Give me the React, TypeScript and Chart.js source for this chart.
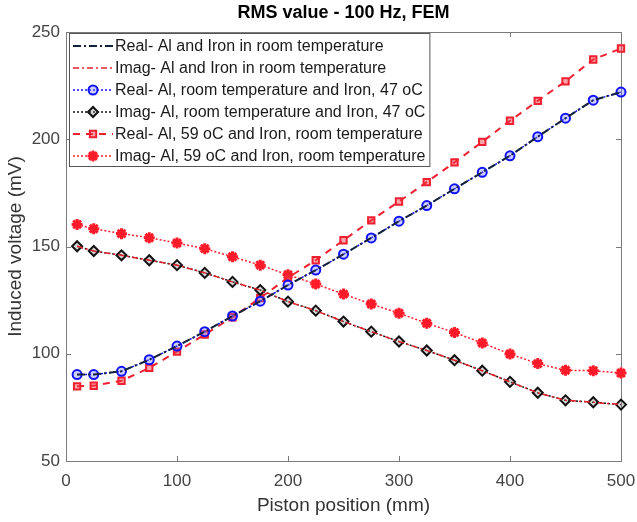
import React, { useEffect, useRef } from 'react';
import { Chart, registerables } from 'chart.js';
import { drawPoint } from 'chart.js/helpers';

Chart.register(...registerables);

// ---- data ----
const positions = [10, 25, 50, 75, 100, 125, 150, 175, 200, 225, 250, 275, 300, 325, 350, 375, 400, 425, 450, 475, 500];
const realRoom = [90.3, 90.3, 91.8, 97.2, 103.6, 110.3, 117.6, 124.5, 132, 139, 146.4, 154, 161.8, 169.1, 176.9, 184.6, 192.3, 201.2, 209.8, 218.2, 222];
const imagRoom = [150.1, 147.9, 145.9, 143.6, 141.3, 137.7, 133.5, 129.7, 124.3, 120.1, 115, 110.3, 105.7, 101.5, 97, 92.1, 86.9, 81.8, 78.3, 77.4, 76.3];
const realIron47 = [90.3, 90.3, 91.8, 97.2, 103.6, 110.3, 117.6, 124.5, 132, 139, 146.4, 154, 161.8, 169.1, 176.9, 184.6, 192.3, 201.2, 209.8, 218.2, 222];
const imagIron47 = [150.1, 147.9, 145.9, 143.6, 141.3, 137.7, 133.5, 129.7, 124.3, 120.1, 115, 110.3, 105.7, 101.5, 97, 92.1, 86.9, 81.8, 78.3, 77.4, 76.3];
const realAl59 = [84.8, 85.1, 87.4, 93.4, 101, 109, 117, 126, 135.5, 143.6, 152.9, 162.2, 171, 180, 189.2, 198.8, 208.6, 217.9, 227, 237.2, 242.3];
const imagAl59 = [160.3, 158.3, 156, 154.1, 151.6, 149, 145.2, 141.3, 136.8, 132.5, 127.8, 123.2, 118.9, 114.2, 109.9, 105, 99.9, 95.4, 92.3, 92.1, 91];

const seriesNames = [
  'Real- Al and Iron in room temperature',
  'Imag- Al and Iron in room temperature',
  'Real- Al, room temperature and Iron, 47 oC',
  'Imag- Al, room temperature and Iron, 47 oC',
  'Real- Al, 59 oC and Iron, room temperature',
  'Imag- Al, 59 oC and Iron, room temperature',
];
const xTicks = [0, 100, 200, 300, 400, 500];
const yTicks = [50, 100, 150, 200, 250];
const chartTitle = 'RMS value - 100 Hz, FEM';
const xTitle = 'Piston position (mm)';
const yTitle = 'Induced voltage (mV)';

const FONT = "'Liberation Sans', Arial, Helvetica, sans-serif";

const toPoints = (ys: number[]) => ys.map((y, i) => ({ x: positions[i], y }));

const framePlugin = {
  id: 'frame',
  beforeDatasetsDraw(chart: any) {
    const { ctx, chartArea: a, scales } = chart;
    ctx.save();
    ctx.strokeStyle = '#7a7a7a';
    ctx.lineWidth = 1;
    ctx.strokeRect(Math.round(a.left) + 0.5, Math.round(a.top) + 0.5, Math.round(a.right - a.left), Math.round(a.bottom - a.top));
    const tl = 5;
    ctx.beginPath();
    xTicks.slice(1, -1).forEach((v) => {
      const x = Math.round(scales.x.getPixelForValue(v)) + 0.5;
      ctx.moveTo(x, a.bottom);
      ctx.lineTo(x, a.bottom - tl);
      ctx.moveTo(x, a.top);
      ctx.lineTo(x, a.top + tl);
    });
    yTicks.slice(1, -1).forEach((v) => {
      const y = Math.round(scales.y.getPixelForValue(v)) + 0.5;
      ctx.moveTo(a.left, y);
      ctx.lineTo(a.left + tl, y);
      ctx.moveTo(a.right, y);
      ctx.lineTo(a.right - tl, y);
    });
    ctx.stroke();
    ctx.restore();
  },
  afterDraw(chart: any) {
    const { ctx, chartArea: a } = chart;
    ctx.save();
    ctx.font = `bold 18px ${FONT}`;
    ctx.fillStyle = '#000000';
    ctx.textAlign = 'center';
    ctx.textBaseline = 'middle';
    ctx.fillText(chartTitle, (a.left + a.right) / 2, 13);
    ctx.restore();
  },
};

const legendPlugin = {
  id: 'boxLegend',
  afterDraw(chart: any) {
    const { ctx, chartArea: a } = chart;
    const datasets = chart.data.datasets;
    const fontSize = 16;
    const rowH = 22;
    const left = Math.round(a.left) + 3;
    const top = Math.round(a.top) + 1;
    ctx.save();
    ctx.font = `${fontSize}px ${FONT}`;
    let maxW = 0;
    datasets.forEach((d: any) => {
      maxW = Math.max(maxW, ctx.measureText(d.label).width);
    });
    const sampleStart = 4;
    const sampleLen = 40;
    const textX = left + sampleStart + sampleLen + 2;
    const width = textX - left + maxW + 4;
    const height = rowH * datasets.length + 1;
    ctx.fillStyle = '#ffffff';
    ctx.fillRect(left, top, width, height);
    ctx.strokeStyle = '#555555';
    ctx.lineWidth = 1;
    ctx.strokeRect(left + 0.5, top + 0.5, width, height);
    datasets.forEach((d: any, i: number) => {
      const cy = top + 13 + i * rowH;
      const x0 = left + sampleStart;
      const x1 = x0 + sampleLen;
      ctx.save();
      ctx.strokeStyle = d.borderColor;
      ctx.lineWidth = d.borderWidth;
      ctx.setLineDash(d.borderDash || []);
      ctx.beginPath();
      ctx.moveTo(x0, cy);
      ctx.lineTo(x1, cy);
      ctx.stroke();
      ctx.restore();
      if (d.pointRadius > 0) {
        ctx.save();
        ctx.setLineDash([]);
        ctx.strokeStyle = d.pointBorderColor;
        ctx.fillStyle = d.pointBackgroundColor;
        ctx.lineWidth = d.pointBorderWidth;
        drawPoint(ctx, { pointStyle: d.pointStyle, rotation: 0, radius: d.pointRadius, borderWidth: d.pointBorderWidth }, (x0 + x1) / 2, cy);
        ctx.restore();
      }
      ctx.fillStyle = '#1a1a1a';
      ctx.textBaseline = 'middle';
      ctx.textAlign = 'left';
      ctx.fillText(d.label, textX, cy + 1);
    });
    ctx.restore();
  },
};

export default function App() {
  const ref = useRef<HTMLCanvasElement | null>(null);

  useEffect(() => {
    document.body.style.margin = '0';
    const canvas = ref.current;
    if (!canvas) return;
    const common = { clip: false as any, tension: 0, fill: false };
    const chart = new Chart(canvas, {
      type: 'line',
      data: {
        datasets: [
          {
            ...common,
            label: seriesNames[0],
            data: toPoints(realRoom),
            borderColor: '#14233a',
            borderWidth: 2,
            borderDash: [8, 3, 2, 3],
            pointRadius: 0,
            pointStyle: 'circle',
          },
          {
            ...common,
            label: seriesNames[1],
            data: toPoints(imagRoom),
            borderColor: '#e8202a',
            borderWidth: 1.5,
            borderDash: [6, 3, 2, 3],
            pointRadius: 0,
            pointStyle: 'circle',
          },
          {
            ...common,
            label: seriesNames[2],
            data: toPoints(realIron47),
            borderColor: '#1010ff',
            borderWidth: 1.5,
            borderDash: [2, 2],
            pointStyle: 'circle',
            pointRadius: 4.5,
            pointBorderWidth: 2,
            pointBorderColor: '#1010ff',
            pointBackgroundColor: 'rgba(120,120,255,0.35)',
          },
          {
            ...common,
            label: seriesNames[3],
            data: toPoints(imagIron47),
            borderColor: '#111111',
            borderWidth: 1.5,
            borderDash: [2, 2],
            pointStyle: 'rectRot',
            pointRadius: 5,
            pointBorderWidth: 2,
            pointBorderColor: '#111111',
            pointBackgroundColor: 'rgba(140,140,140,0.35)',
          },
          {
            ...common,
            label: seriesNames[4],
            data: toPoints(realAl59),
            borderColor: '#f02030',
            borderWidth: 2,
            borderDash: [7, 6],
            pointStyle: 'rect',
            pointRadius: 4.5,
            pointBorderWidth: 2,
            pointBorderColor: '#f02030',
            pointBackgroundColor: 'rgba(240,60,70,0.45)',
          },
          {
            ...common,
            label: seriesNames[5],
            data: toPoints(imagAl59),
            borderColor: '#ff2030',
            borderWidth: 1.5,
            borderDash: [2, 2],
            pointStyle: 'star',
            pointRadius: 5.5,
            pointBorderWidth: 3,
            pointBorderColor: '#ff1a2a',
            pointBackgroundColor: '#ff1a2a',
          },
        ],
      },
      options: {
        responsive: false,
        animation: false,
        devicePixelRatio: 1,
        events: [],
        layout: { padding: { top: 32, right: 16, bottom: 0, left: 0 } },
        plugins: {
          legend: { display: false },
          tooltip: { enabled: false },
          title: { display: false },
        },
        scales: {
          x: {
            type: 'linear',
            min: 0,
            max: 500,
            afterBuildTicks: (s: any) => {
              s.ticks = xTicks.map((v) => ({ value: v }));
            },
            afterFit: (s: any) => {
              s.height = 61;
              s.paddingLeft = 0;
              s.paddingRight = 0;
            },
            grid: { display: false, drawTicks: false },
            border: { display: false },
            ticks: { padding: 10, color: '#444444', font: { family: FONT, size: 17 }, maxRotation: 0, autoSkip: false },
            title: {
              display: true,
              text: xTitle,
              color: '#333333',
              font: { family: FONT, size: 19 },
              padding: { top: 0, bottom: 5 },
            },
          },
          y: {
            type: 'linear',
            min: 50,
            max: 250,
            afterBuildTicks: (s: any) => {
              s.ticks = yTicks.map((v) => ({ value: v }));
            },
            afterFit: (s: any) => {
              s.width = 66;
            },
            grid: { display: false, drawTicks: false },
            border: { display: false },
            ticks: { padding: 6, color: '#444444', font: { family: FONT, size: 17 }, autoSkip: false },
            title: {
              display: true,
              text: yTitle,
              color: '#333333',
              font: { family: FONT, size: 19 },
              padding: { top: 4, bottom: 0 },
            },
          },
        },
      },
      plugins: [framePlugin, legendPlugin],
    });
    return () => chart.destroy();
  }, []);

  return <canvas ref={ref} width={637} height={522} style={{ display: 'block' }} />;
}
